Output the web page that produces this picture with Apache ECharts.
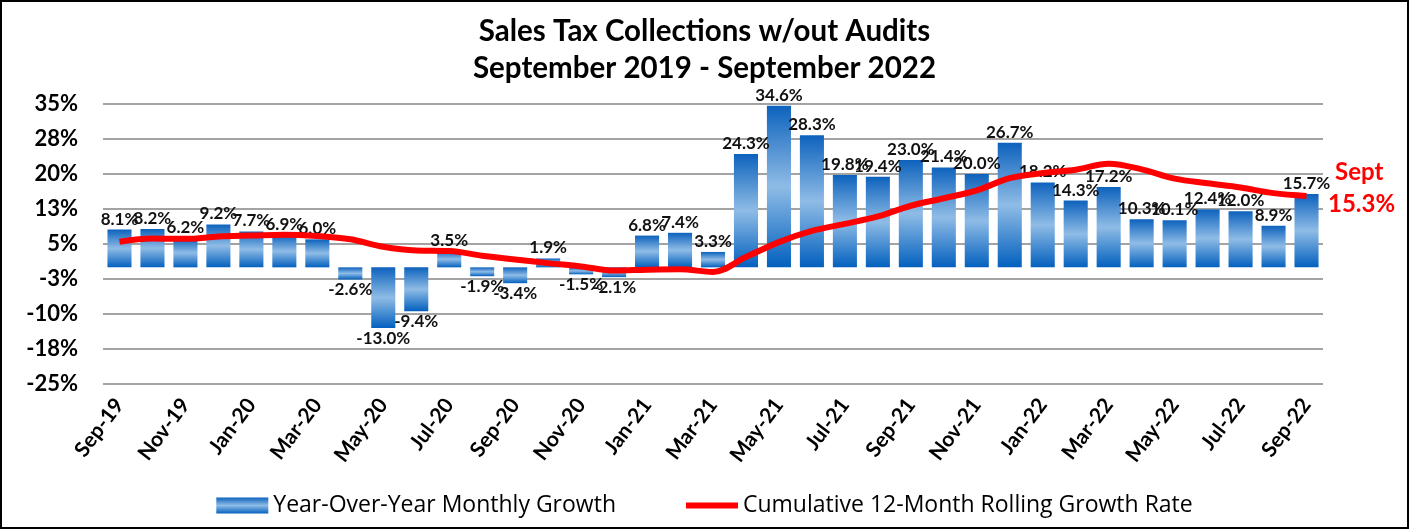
<!DOCTYPE html>
<html>
<head>
<meta charset="utf-8">
<script src="https://cdn.jsdelivr.net/npm/echarts@6/dist/echarts.min.js"></script>
<style>
    html, body { margin: 0; padding: 0; background: #fff; }
    #chart { width: 1409px; height: 529px; box-sizing: border-box; border: 2px solid #000; }
</style>
</head>
<body>
<div id="chart"></div>
<script>
// months, Sep-19 .. Sep-22
const categories = [
    'Sep-19', 'Oct-19', 'Nov-19', 'Dec-19', 'Jan-20', 'Feb-20', 'Mar-20', 'Apr-20', 'May-20', 'Jun-20',
    'Jul-20', 'Aug-20', 'Sep-20', 'Oct-20', 'Nov-20', 'Dec-20', 'Jan-21', 'Feb-21', 'Mar-21', 'Apr-21',
    'May-21', 'Jun-21', 'Jul-21', 'Aug-21', 'Sep-21', 'Oct-21', 'Nov-21', 'Dec-21', 'Jan-22', 'Feb-22',
    'Mar-22', 'Apr-22', 'May-22', 'Jun-22', 'Jul-22', 'Aug-22', 'Sep-22'
]
// year-over-year monthly growth (%)
const monthlyGrowth = [
    8.1, 8.2, 6.2, 9.2, 7.7, 6.9, 6.0, -2.6, -13.0, -9.4,
    3.5, -1.9, -3.4, 1.9, -1.5, -2.1, 6.8, 7.4, 3.3, 24.3,
    34.6, 28.3, 19.8, 19.4, 23.0, 21.4, 20.0, 26.7, 18.2, 14.3,
    17.2, 10.3, 10.1, 12.4, 12.0, 8.9, 15.7
]
// cumulative 12-month rolling growth rate (%)
const rollingGrowth = [
    5.5, 6.2, 6.1, 6.6, 6.8, 7.0, 6.7, 6.0, 4.4, 3.6,
    3.5, 2.5, 1.7, 0.9, 0.2, -0.7, -0.5, -0.4, -1.0, 2.2,
    5.4, 7.8, 9.3, 10.9, 13.2, 14.8, 16.5, 19.1, 20.2, 20.9,
    22.2, 21.0, 19.0, 18.0, 17.1, 15.9, 15.3
]
const yTicks = [-25, -17.5, -10, -2.5, 5, 12.5, 20, 27.5, 35]

const FONT = 'Lato, "Open Sans", "Noto Sans", sans-serif'

// excel style rounding (half away from zero)
const pctRound = v => (v < 0 ? '-' : '') + Math.round(Math.abs(v)) + '%'

const barColor = new echarts.graphic.LinearGradient(0, 0, 0, 1, [
    { offset: 0, color: '#0d62bd' },
    { offset: 0.5, color: '#8fbce6' },
    { offset: 1, color: '#0360be' }
])

const barData = monthlyGrowth.map(v => ({
    value: v,
    label: { position: v < 0 ? 'bottom' : 'top' }
}))

const lastIdx = rollingGrowth.length - 1

const chart = echarts.init(document.getElementById('chart'))
chart.setOption({
    animation: false,
    textStyle: { fontFamily: FONT },
    title: {
        text: 'Sales Tax Collections w/out Audits\nSeptember 2019 - September 2022',
        left: 'center',
        top: 6,
        textStyle: {
            fontFamily: FONT,
            fontSize: 29.5,
            fontWeight: 'bold',
            color: '#000',
            lineHeight: 37
        }
    },
    grid: {
        left: 101,
        right: 84,
        top: 102,
        bottom: 143,
        containLabel: false
    },
    legend: {
        bottom: 5,
        left: 'center',
        itemWidth: 52,
        itemHeight: 16,
        itemGap: 70,
        textStyle: { fontFamily: '"Open Sans", Lato, sans-serif', fontSize: 23, color: '#000' },
        data: [
            { name: 'Year-Over-Year Monthly Growth', icon: 'rect' },
            // thick red stroke, padded so it is not stretched to the full icon height
            { name: 'Cumulative 12-Month Rolling Growth Rate', icon: 'path://M0,0 M0,16 M0,5 L52,5 L52,11 L0,11 Z' }
        ]
    },
    xAxis: {
        type: 'category',
        data: categories,
        axisLine: { show: false },
        axisTick: { show: false },
        axisLabel: {
            interval: 1,
            rotate: 53,
            margin: 17,
            fontFamily: FONT,
            fontSize: 21,
            fontWeight: 'bold',
            color: '#000'
        }
    },
    yAxis: {
        type: 'value',
        min: -25,
        max: 35,
        axisLine: { show: false },
        axisTick: { show: false, customValues: yTicks },
        axisLabel: {
            customValues: yTicks,
            margin: 25,
            fontFamily: FONT,
            fontSize: 22,
            fontWeight: 'bold',
            color: '#000',
            formatter: pctRound
        },
        splitLine: {
            show: true,
            lineStyle: { color: '#a3a3a3', width: 2 }
        }
    },
    series: [
        {
            name: 'Year-Over-Year Monthly Growth',
            type: 'bar',
            data: barData,
            barCategoryGap: '27%',
            itemStyle: { color: barColor },
            label: {
                show: true,
                distance: 2,
                fontFamily: FONT,
                fontSize: 17,
                fontWeight: 'bold',
                color: '#111',
                formatter: p => p.value.toFixed(1) + '%'
            },
            z: 2
        },
        {
            name: 'Cumulative 12-Month Rolling Growth Rate',
            type: 'line',
            data: rollingGrowth,
            smooth: 0.35,
            showSymbol: false,
            symbol: 'none',
            lineStyle: { color: '#ff0000', width: 6 },
            itemStyle: { color: '#ff0000' },
            z: 3,
            markPoint: {
                symbol: 'circle',
                symbolSize: 1,
                itemStyle: { color: 'rgba(0,0,0,0)' },
                data: [{ coord: [lastIdx, rollingGrowth[lastIdx]] }],
                label: {
                    show: true,
                    position: 'right',
                    offset: [16, -10],
                    formatter: () => '{a|Sept}\n{b|' + rollingGrowth[lastIdx].toFixed(1) + '%}',
                    rich: {
                        a: { fontFamily: FONT, fontSize: 24, fontWeight: 'bold', color: '#ff0000', lineHeight: 36, padding: [0, 0, 0, 7] },
                        b: { fontFamily: FONT, fontSize: 24, fontWeight: 'bold', color: '#ff0000', lineHeight: 28 }
                    }
                }
            }
        }
    ]
})
</script>
</body>
</html>
